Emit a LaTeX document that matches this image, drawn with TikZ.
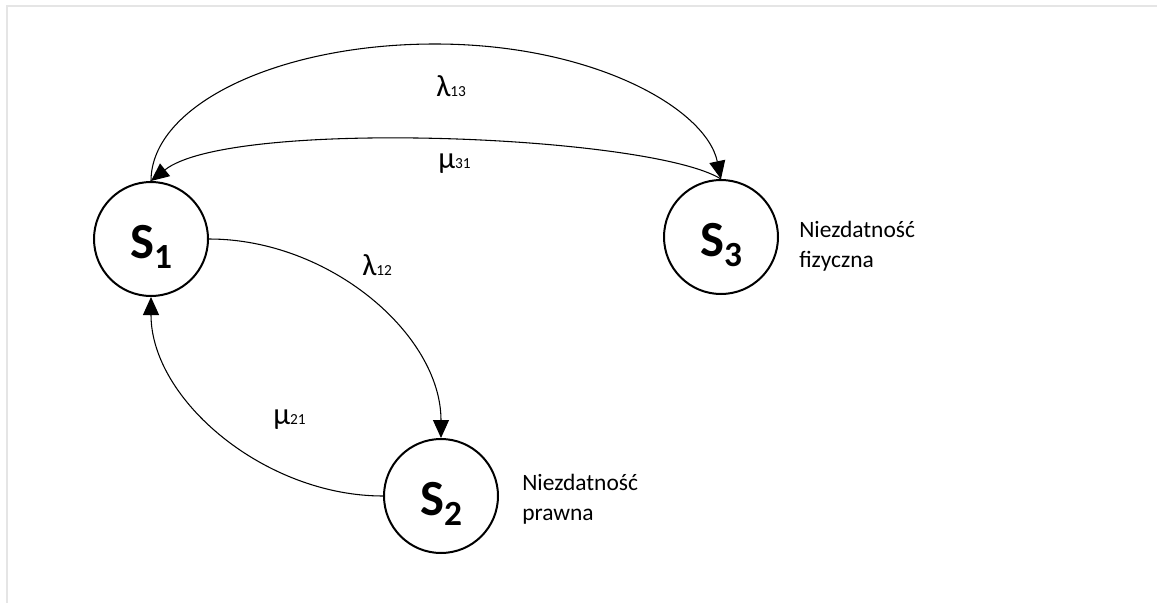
\documentclass[tikz,border=0pt]{standalone}
\usepackage{fontspec}
\setmainfont{Carlito}
\usetikzlibrary{arrows.meta}
% state symbol: bold S with a large subscript, set low in the circle
\newcommand\statelabel[1]{\raisebox{-14.25pt}[0pt][0pt]{\fontsize{38}{38}\selectfont\bfseries S\raisebox{-7.5pt}{\fontsize{26.5}{26.5}\selectfont #1}}}
% transition rate: large Greek letter with small indices on the baseline
\newcommand\rateidx[1]{{\fontsize{11.5}{11.5}\selectfont #1}}
\begin{document}
\begin{tikzpicture}[x=0.75pt,y=-0.75pt,
  state/.style={circle,draw,line width=1.5pt,minimum size=85.5pt,inner sep=0pt},
  trans/.style={line width=0.8pt,-{Triangle[length=13.5pt,width=12pt]}},
  rate/.style={anchor=base west,inner sep=0pt,font=\fontsize{23}{25}\selectfont},
  note/.style={anchor=base west,inner sep=0pt,align=left,font=\fontsize{17.6}{22.5}\selectfont},
  frame/.style={draw=black!10,line width=1.5pt}]
\useasboundingbox (0,0) rectangle (1157,603);
\draw[frame] (7,603) -- (7,6) -- (1157,6);

% states
\node[state] (s1) at (151,239) {\statelabel{1}};
\node[state] (s2) at (441,496) {\statelabel{2}};
\node[state] (s3) at (721,237) {\statelabel{3}};

% transitions
\coordinate (top13) at (435,44);
\draw[trans] (s1.north) .. controls +(0,-76) and (278,44) .. (top13)
             .. controls (592,44) and (706,108) .. (s3.north);
\draw[trans] (s3.north) .. controls (650,135) and (230,118) .. (s1.north);
\draw[trans] (s1.east) .. controls (330,239) and (441,335) .. (s2.north);
\draw[trans] (s2.west) .. controls (265,496) and (151,400) .. (s1.south);

% rates
\node[rate] (l13) at (436,96) {λ\rateidx{13}};
\node[rate] (m31) at (438,168) {μ\rateidx{31}};
\node[rate] (l12) at (362,275) {λ\rateidx{12}};
\node[rate] (m21) at (273,424) {μ\rateidx{21}};

% state descriptions (anchored at the baseline of the last line)
\node[note] (n3) at (799,267) {Niezdatność\\fizyczna};
\node[note] (n2) at (522,520) {Niezdatność\\prawna};
\end{tikzpicture}
\end{document}
